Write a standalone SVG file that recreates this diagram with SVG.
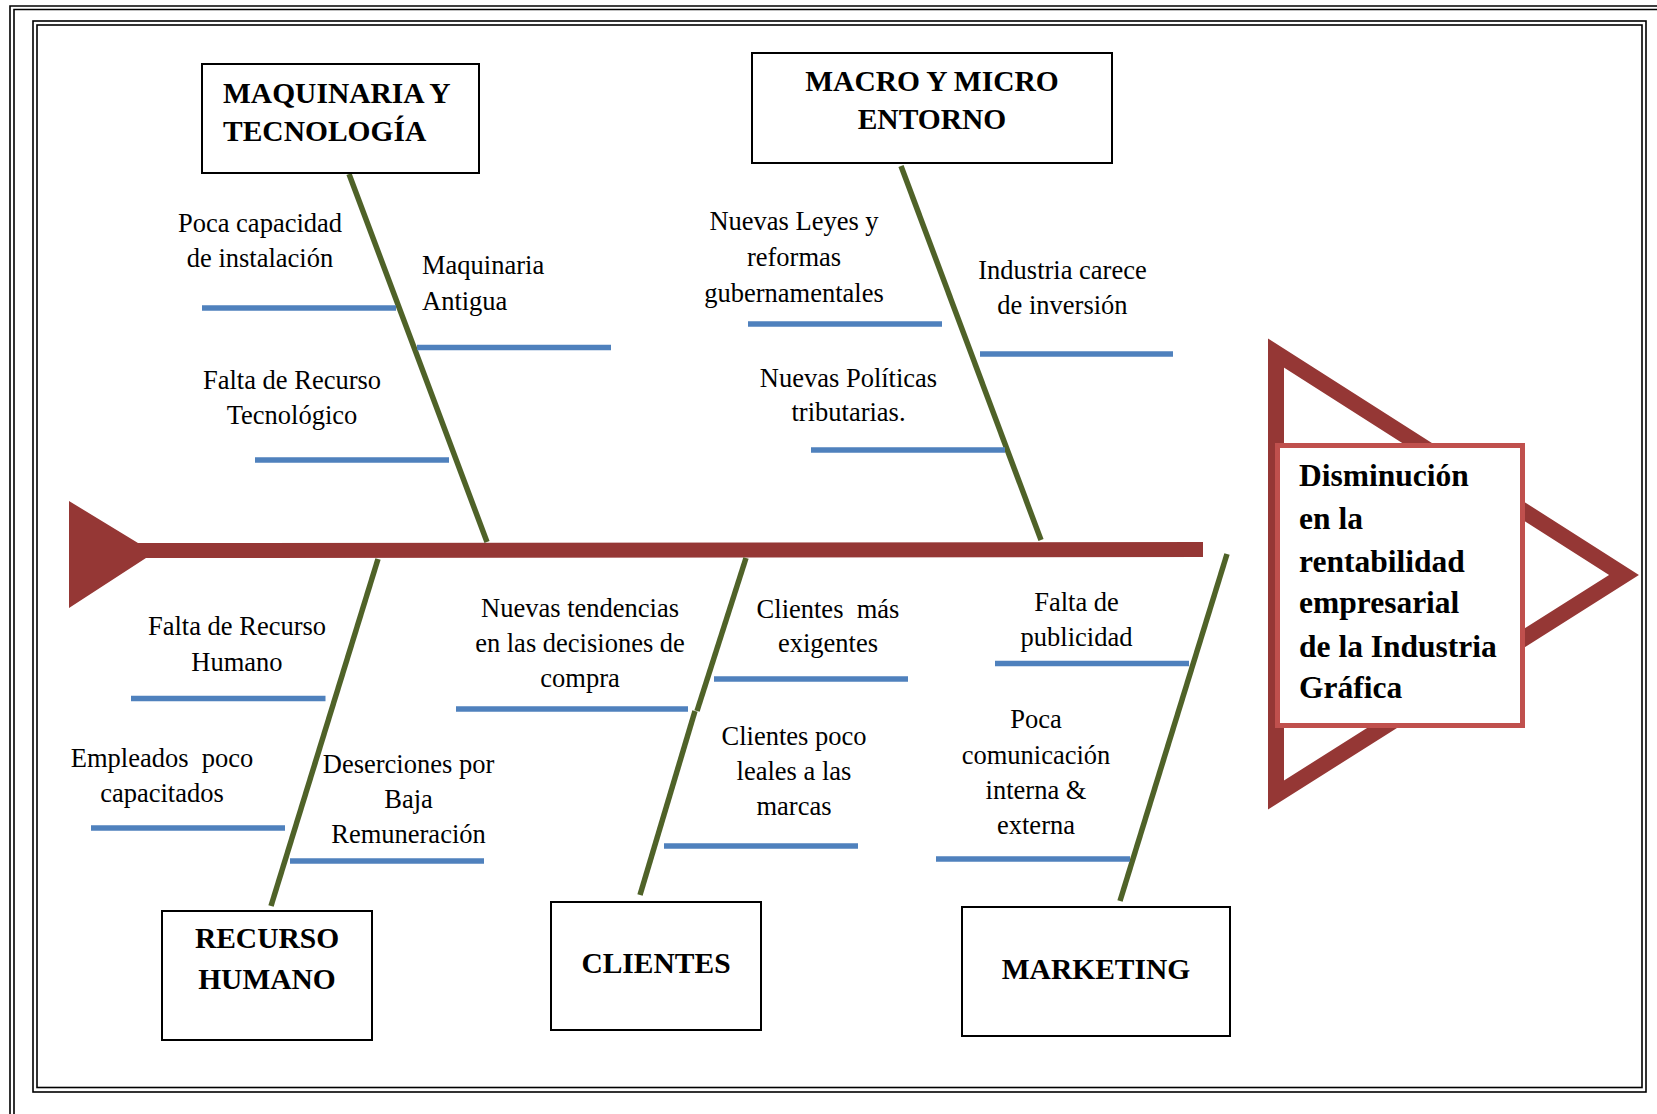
<svg xmlns="http://www.w3.org/2000/svg" width="1657" height="1114" viewBox="0 0 1657 1114">
<style>
.frame{fill:none;stroke:#000;stroke-width:1.6}
.box{fill:#fff;stroke:#000;stroke-width:2}
.cat{font-family:"Liberation Serif","Times New Roman",serif;font-weight:bold;font-size:29.5px;fill:#000}
.lbl{font-family:"Liberation Serif","Times New Roman",serif;font-size:26.5px;fill:#000;text-anchor:middle}
.bone{stroke:#4F6228;stroke-width:5.5;fill:none}
.sub{stroke:#4F81BD;stroke-width:5.5;fill:none}
.head{font-family:"Liberation Serif","Times New Roman",serif;font-weight:bold;font-size:31.5px;fill:#000}
</style>
<rect width="1657" height="1114" fill="#fff"/>
<g id="frame">
<path class="frame" d="M10 1114 V6 H1657"/>
<path class="frame" d="M14 1114 V9.5 H1657"/>
<rect class="frame" x="33" y="21" width="1613" height="1071"/>
<rect class="frame" x="37" y="25" width="1605" height="1062.5"/>
</g>
<g id="connectors">
<polygon id="spine" points="69,501 138,543 1203,542 1203,557 146,558 69,608" fill="#953735"/>
<line class="bone" x1="349" y1="174" x2="487" y2="542"/>
<line class="bone" x1="901" y1="166" x2="1041" y2="540"/>
<line class="bone" x1="378" y1="559" x2="271" y2="906"/>
<line class="bone" x1="746" y1="558" x2="697" y2="711"/>
<line class="bone" x1="695" y1="711" x2="640" y2="895"/>
<line class="bone" x1="1227" y1="554" x2="1120" y2="901"/>
<line class="sub" x1="202" y1="308" x2="396" y2="308"/>
<line class="sub" x1="417" y1="347.5" x2="611" y2="347.5"/>
<line class="sub" x1="255" y1="460" x2="449" y2="460"/>
<line class="sub" x1="748" y1="324" x2="942" y2="324"/>
<line class="sub" x1="980" y1="354" x2="1173" y2="354"/>
<line class="sub" x1="811" y1="450" x2="1005" y2="450"/>
<line class="sub" x1="131" y1="698.5" x2="325.5" y2="698.5"/>
<line class="sub" x1="91" y1="828" x2="285" y2="828"/>
<line class="sub" x1="290" y1="861" x2="484" y2="861"/>
<line class="sub" x1="456" y1="709" x2="688" y2="709"/>
<line class="sub" x1="714" y1="679" x2="908" y2="679"/>
<line class="sub" x1="664" y1="846" x2="858" y2="846"/>
<line class="sub" x1="995" y1="663.5" x2="1189" y2="663.5"/>
<line class="sub" x1="936" y1="859" x2="1130" y2="859"/>
</g>
<g id="labels">
<text class="lbl" x="260" y="232">Poca capacidad</text>
<text class="lbl" x="260" y="267">de instalación</text>
<text class="lbl" x="422" y="274" style="text-anchor:start">Maquinaria</text>
<text class="lbl" x="422" y="310" style="text-anchor:start">Antigua</text>
<text class="lbl" x="292" y="389">Falta de Recurso</text>
<text class="lbl" x="292" y="424">Tecnológico</text>
<text class="lbl" x="794" y="229.5">Nuevas Leyes y</text>
<text class="lbl" x="794" y="266">reformas</text>
<text class="lbl" x="794" y="302">gubernamentales</text>
<text class="lbl" x="1062.5" y="278.5">Industria carece</text>
<text class="lbl" x="1062.5" y="314">de inversión</text>
<text class="lbl" x="848.5" y="387">Nuevas Políticas</text>
<text class="lbl" x="848.5" y="421">tributarias.</text>
<text class="lbl" x="237" y="635">Falta de Recurso</text>
<text class="lbl" x="237" y="671">Humano</text>
<text class="lbl" x="162" y="767" style="white-space:pre">Empleados  poco</text>
<text class="lbl" x="162" y="802">capacitados</text>
<text class="lbl" x="408.5" y="772.5">Deserciones por</text>
<text class="lbl" x="408.5" y="807.5">Baja</text>
<text class="lbl" x="408.5" y="843">Remuneración</text>
<text class="lbl" x="580" y="616.5">Nuevas tendencias</text>
<text class="lbl" x="580" y="651.5">en las decisiones de</text>
<text class="lbl" x="580" y="686.5">compra</text>
<text class="lbl" x="828" y="618" style="white-space:pre">Clientes  más</text>
<text class="lbl" x="828" y="652">exigentes</text>
<text class="lbl" x="794" y="745">Clientes poco</text>
<text class="lbl" x="794" y="780">leales a las</text>
<text class="lbl" x="794" y="815">marcas</text>
<text class="lbl" x="1076.5" y="611">Falta de</text>
<text class="lbl" x="1076.5" y="646">publicidad</text>
<text class="lbl" x="1036" y="728">Poca</text>
<text class="lbl" x="1036" y="763.5">comunicación</text>
<text class="lbl" x="1036" y="799">interna &amp;</text>
<text class="lbl" x="1036" y="834">externa</text>
</g>
<g id="node-maquinaria">
<rect class="box" x="202" y="64" width="277" height="109"/>
<text class="cat" x="223" y="102.5">MAQUINARIA Y</text>
<text class="cat" x="223" y="141">TECNOLOGÍA</text>
</g>
<g id="node-entorno">
<rect class="box" x="752" y="53" width="360" height="110"/>
<text class="cat" x="932" y="91" text-anchor="middle">MACRO Y MICRO</text>
<text class="cat" x="932" y="129" text-anchor="middle">ENTORNO</text>
</g>
<g id="node-recurso">
<rect class="box" x="162" y="911" width="210" height="129"/>
<text class="cat" x="267" y="948" text-anchor="middle">RECURSO</text>
<text class="cat" x="267" y="989" text-anchor="middle">HUMANO</text>
</g>
<g id="node-clientes">
<rect class="box" x="551" y="902" width="210" height="128"/>
<text class="cat" x="656" y="973" text-anchor="middle">CLIENTES</text>
</g>
<g id="node-marketing">
<rect class="box" x="962" y="907" width="268" height="129"/>
<text class="cat" x="1096" y="979" text-anchor="middle">MARKETING</text>
</g>
<g id="node-efecto">
<polygon points="1276,353 1276,795 1624,575" fill="none" stroke="#953735" stroke-width="16" stroke-linejoin="miter"/>
<rect x="1277.5" y="445.5" width="245" height="280" fill="#fff" stroke="#C0504D" stroke-width="5"/>
<text class="head" x="1299" y="486">Disminución</text>
<text class="head" x="1299" y="529">en la</text>
<text class="head" x="1299" y="572">rentabilidad</text>
<text class="head" x="1299" y="613">empresarial</text>
<text class="head" x="1299" y="657">de la Industria</text>
<text class="head" x="1299" y="698">Gráfica</text>
</g>
</svg>
